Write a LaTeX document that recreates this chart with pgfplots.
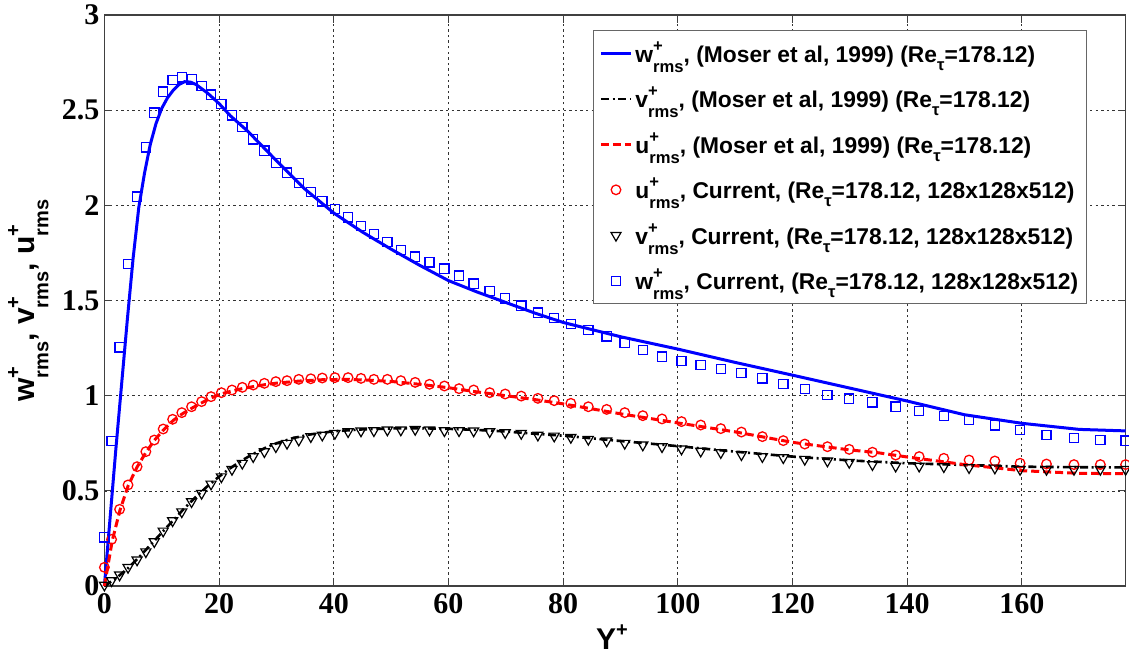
\documentclass[border=0pt]{standalone}
\usepackage{fontspec}
\setmainfont{Liberation Sans}
\newfontfamily\tickfont{Liberation Serif}
\usepackage{pgfplots}
\usepackage{pgfplotstable}
\pgfplotsset{compat=1.18}

\newcommand{\lgv}[1]{#1\rlap{\raisebox{0.48em}{\fontsize{8.3}{8.3}\selectfont +}}\raisebox{-0.45em}{\fontsize{8.3}{8.3}\selectfont rms}}
\newcommand{\Ret}{Re\raisebox{-0.35em}{\fontsize{8.3}{8.3}\selectfont τ}}
\newcommand{\ylv}[1]{#1\rlap{\raisebox{0.5em}{\fontsize{10}{10}\selectfont +}}\raisebox{-0.45em}{\fontsize{10}{10}\selectfont rms}}

\pgfplotstableread{
x w u v
0 0.256 0.098 0.005
1.25 0.762 0.245 0.028
2.65 1.254 0.403 0.058
4.12 1.692 0.531 0.098
5.7 2.046 0.627 0.137
7.23 2.305 0.706 0.180
8.7 2.487 0.767 0.233
10.25 2.598 0.825 0.289
11.9 2.659 0.876 0.343
13.5 2.673 0.911 0.390
15.2 2.662 0.942 0.443
16.95 2.627 0.969 0.487
18.6 2.582 0.995 0.536
20.4 2.534 1.016 0.574
22.25 2.473 1.030 0.613
24.05 2.412 1.044 0.645
25.95 2.347 1.056 0.680
27.9 2.288 1.065 0.706
29.9 2.224 1.074 0.732
31.85 2.172 1.079 0.750
33.9 2.118 1.086 0.767
36.0 2.070 1.089 0.785
38.0 2.021 1.093 0.793
40.2 1.982 1.095 0.802
42.5 1.937 1.095 0.811
44.75 1.892 1.091 0.815
47.0 1.850 1.086 0.816
49.35 1.808 1.086 0.820
51.7 1.766 1.079 0.820
54.2 1.731 1.070 0.823
56.7 1.701 1.060 0.820
59.3 1.668 1.051 0.816
61.85 1.631 1.037 0.816
64.4 1.589 1.030 0.815
67.2 1.549 1.016 0.811
69.9 1.512 1.009 0.806
72.7 1.473 0.998 0.802
75.6 1.436 0.986 0.793
78.45 1.408 0.974 0.788
81.35 1.377 0.960 0.781
84.4 1.345 0.942 0.771
87.6 1.312 0.928 0.762
90.75 1.277 0.911 0.750
93.9 1.240 0.895 0.741
97.25 1.205 0.878 0.732
100.65 1.182 0.864 0.720
104.0 1.161 0.846 0.709
107.5 1.140 0.827 0.701
111.1 1.118 0.809 0.690
114.75 1.091 0.785 0.680
118.4 1.061 0.764 0.674
122.15 1.034 0.746 0.666
126.1 1.004 0.732 0.657
129.9 0.985 0.718 0.650
133.95 0.965 0.703 0.638
138.0 0.942 0.688 0.630
142.1 0.920 0.680 0.630
146.4 0.893 0.671 0.627
150.8 0.872 0.662 0.622
155.3 0.844 0.657 0.620
159.7 0.820 0.645 0.613
164.3 0.793 0.641 0.613
169.1 0.779 0.638 0.613
173.7 0.767 0.638 0.613
178.1 0.764 0.638 0.613
}\curtab

\pgfplotstableread{
x y
0 0
1 0.36
2 0.72
3 1.06
4 1.40
5 1.72
6 1.99
7 2.17
8 2.32
9 2.43
10 2.51
11 2.565
12 2.605
13 2.635
14 2.65
15 2.648
16 2.635
18 2.59
20 2.535
22 2.47
25 2.39
30 2.235
35 2.085
40 1.96
45 1.86
50 1.77
55 1.685
60 1.605
65 1.545
70 1.49
75 1.435
80 1.385
90 1.31
100 1.245
110 1.175
120 1.108
130 1.04
140 0.972
150 0.90
160 0.855
170 0.823
178.12 0.815
}\mwtab

\pgfplotstableread{
x y
0 0
2 0.04
4 0.09
6 0.15
8 0.215
10 0.28
12 0.345
14 0.41
16 0.47
18 0.525
20 0.575
22 0.62
24 0.66
26 0.695
28 0.725
30 0.75
33 0.778
36 0.797
40 0.813
45 0.823
50 0.828
55 0.829
60 0.826
65 0.82
70 0.812
75 0.80
80 0.79
90 0.762
100 0.735
110 0.706
120 0.68
130 0.66
140 0.645
150 0.636
160 0.627
170 0.624
178.12 0.623
}\mvtab

\pgfplotstableread{
x y
0 0
1.38 0.24
2.73 0.40
4.18 0.53
5.7 0.625
7.2 0.70
8.7 0.765
10.3 0.82
12 0.87
13.6 0.905
15.4 0.937
17 0.963
18.6 0.988
20.4 1.01
22.3 1.025
24 1.037
26 1.048
28 1.058
30 1.066
34 1.077
38 1.084
42 1.086
46 1.082
50 1.075
55 1.06
60 1.042
65 1.02
70 1.0
75 0.98
80 0.957
90 0.905
100 0.857
110 0.81
120 0.755
130 0.715
135 0.70
140 0.678
150 0.638
160 0.606
170 0.592
178.12 0.59
}\mutab

\begin{document}
\begin{tikzpicture}
\useasboundingbox (-52.2pt,-34pt) rectangle (512.3pt,293pt);
\begin{axis}[
  scale only axis, width=510.65pt, height=285.45pt,
  xmin=0, xmax=178.12, ymin=0, ymax=3,
  xtick={0,20,...,160}, ytick={0,0.5,...,3},
  grid=major,
  major grid style={black!80, line width=0.35pt, dash pattern=on 1.2pt off 1.6pt},
  axis line style={draw=black!75, line width=0.7pt},
  tick style={black!75, line width=0.5pt},
  tick align=inside, major tick length=4pt,
  /pgf/number format/assume math mode=true,
  tick label style={font=\tickfont\bfseries\fontsize{15}{15}\selectfont},
  yticklabel style={xshift=1pt},
  clip=false,
  xlabel={\fontsize{15}{15}\selectfont\bfseries Y\raisebox{0.45em}{\fontsize{10}{10}\selectfont +}},
  xlabel style={at={(axis description cs:0.497,-0.112)}, anchor=base},
  ylabel={\fontsize{15}{15}\selectfont\bfseries \ylv{w}, \ylv{v}, \ylv{u}},
  ylabel style={at={(axis description cs:-0.068,0.5)}, anchor=base},
  legend cell align=left,
  legend image code/.code={\draw[mark repeat=2,mark phase=2,#1] plot coordinates {(0pt,0pt) (7.5pt,0pt) (15pt,0pt)};},
  legend style={at={(0.962,0.974)}, anchor=north east, draw=black!60, line width=0.6pt,
    fill=white, font=\bfseries\fontsize{11.4}{13}\selectfont,
    inner xsep=3pt, inner ysep=5.5pt, row sep=10.9pt,
    nodes={inner xsep=1pt, inner ysep=0pt},
    /tikz/every odd column/.style={column sep=0.5pt}},
]
\addplot[blue, line width=1.5pt, no marks] table[x=x,y=y]{\mwtab};
\addlegendentry{\lgv{w}, (Moser et al, 1999) (\Ret=178.12)}
\addplot[black, line width=1.3pt, no marks, dash pattern=on 4pt off 1.8pt on 1pt off 1.8pt] table[x=x,y=y]{\mvtab};
\addlegendentry{\lgv{v}, (Moser et al, 1999) (\Ret=178.12)}
\addplot[red, line width=1.5pt, no marks, dash pattern=on 4pt off 2pt] table[x=x,y=y]{\mutab};
\addlegendentry{\lgv{u}, (Moser et al, 1999) (\Ret=178.12)}
\addplot[red, only marks, mark=o, mark size=2.4pt, mark options={line width=0.65pt, solid, fill=none}] table[x=x,y=u]{\curtab};
\addlegendentry{\lgv{u}, Current, (\Ret=178.12, 128x128x512)}
\addplot[black, only marks, mark=triangle, mark size=2.9pt, mark options={line width=0.6pt, solid, fill=white, rotate=180}] table[x=x,y=v]{\curtab};
\addlegendentry{\lgv{v}, Current, (\Ret=178.12, 128x128x512)}
\addplot[blue, only marks, mark=square, mark size=2.3pt, mark options={line width=0.65pt, solid, fill=none}] table[x=x,y=w]{\curtab};
\addlegendentry{\lgv{w}, Current, (\Ret=178.12, 128x128x512)}
\end{axis}
\end{tikzpicture}
\end{document}
